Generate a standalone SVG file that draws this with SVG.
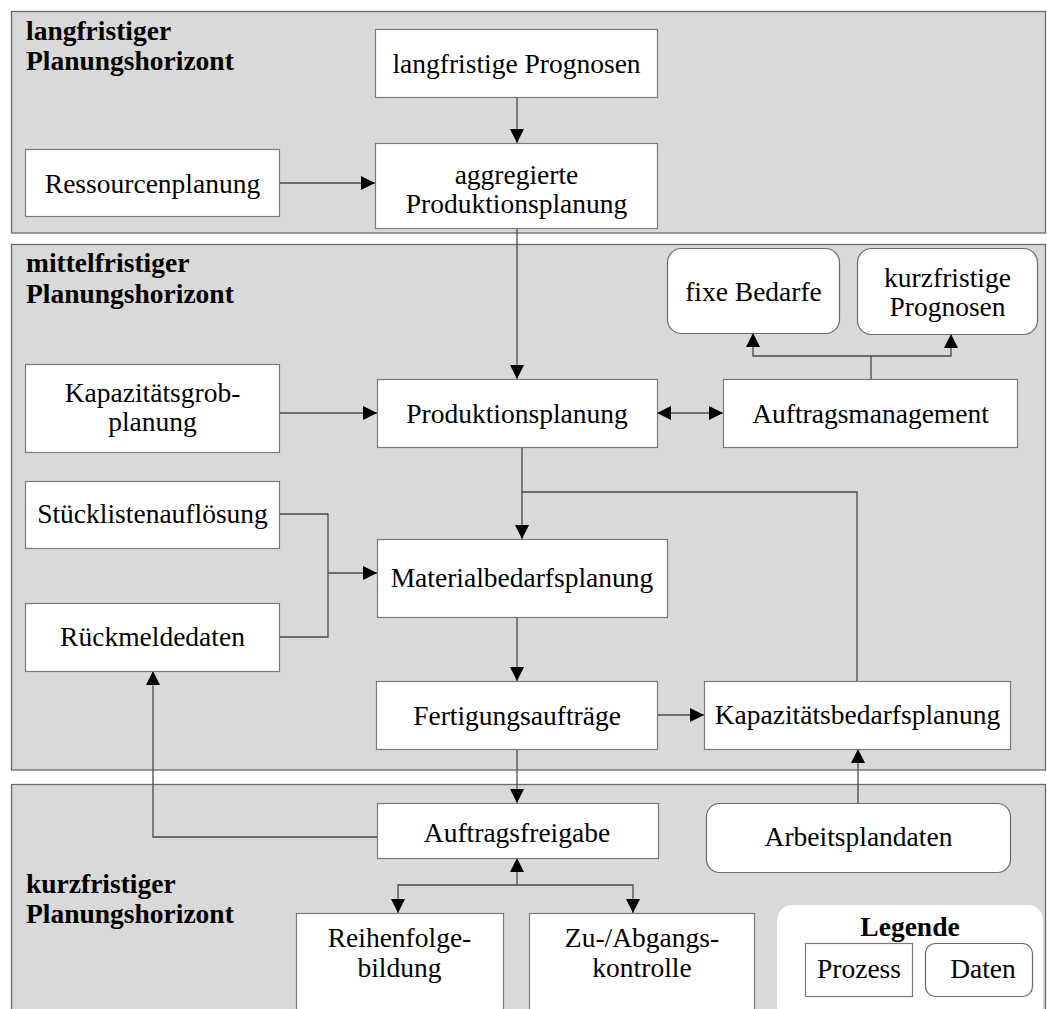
<svg xmlns="http://www.w3.org/2000/svg" width="1047" height="1009" viewBox="0 0 1047 1009">
  <style>
    .band { fill: #d9d9d9; stroke: #6a6a6a; stroke-width: 1.3; }
    .proc { fill: #ffffff; stroke: #7a7a7a; stroke-width: 1.2; }
    .data { fill: #ffffff; stroke: #6a6a6a; stroke-width: 1.2; }
    .legend { fill: #ffffff; stroke: none; }
    .t { font-family: "Liberation Serif", "Times New Roman", serif; font-size: 27.5px; fill: #000000; text-anchor: middle; }
    .h { font-family: "Liberation Serif", "Times New Roman", serif; font-size: 27.5px; font-weight: bold; fill: #000000; }
    .c { fill: none; stroke: #4a4a4a; stroke-width: 1.3; }
  </style>
  <defs>
    <marker id="arrow" markerUnits="userSpaceOnUse" markerWidth="14" markerHeight="14" refX="14" refY="7" orient="auto-start-reverse" viewBox="0 0 14 14">
      <path d="M0,0 L14,7 L0,14 Z" fill="#000000"/>
    </marker>
  </defs>

  <rect width="1047" height="1009" fill="#ffffff"/>

  <!-- planning horizon bands -->
  <g id="bands">
    <rect class="band" x="11.5" y="11.5" width="1034" height="221.5"/>
    <text class="h" x="26" y="39.5">langfristiger</text>
    <text class="h" x="26" y="70">Planungshorizont</text>

    <rect class="band" x="11.5" y="244.5" width="1034" height="525.5"/>
    <text class="h" x="26" y="272">mittelfristiger</text>
    <text class="h" x="26" y="303">Planungshorizont</text>

    <rect class="band" x="11.5" y="784.5" width="1034" height="240"/>
    <text class="h" x="26" y="893">kurzfristiger</text>
    <text class="h" x="26" y="923">Planungshorizont</text>
  </g>

  <!-- connectors -->
  <g id="connectors">
    <line class="c" x1="517" y1="97" x2="517" y2="143" marker-end="url(#arrow)"/>
    <line class="c" x1="279" y1="183" x2="375" y2="183" marker-end="url(#arrow)"/>
    <line class="c" x1="517" y1="228" x2="517" y2="379" marker-end="url(#arrow)"/>
    <line class="c" x1="279" y1="413" x2="377" y2="413" marker-end="url(#arrow)"/>
    <line class="c" x1="657" y1="413" x2="723" y2="413" marker-start="url(#arrow)" marker-end="url(#arrow)"/>
    <line class="c" x1="871" y1="379" x2="871" y2="356"/>
    <polyline class="c" points="753,333 753,356 951,356 951,334" marker-start="url(#arrow)" marker-end="url(#arrow)"/>
    <line class="c" x1="522" y1="447" x2="522" y2="492"/>
    <polyline class="c" points="857,681 857,492 522,492 522,539" marker-end="url(#arrow)"/>
    <polyline class="c" points="279,514 328,514 328,637 279,637"/>
    <line class="c" x1="328" y1="573" x2="377" y2="573" marker-end="url(#arrow)"/>
    <line class="c" x1="517" y1="617" x2="517" y2="681" marker-end="url(#arrow)"/>
    <line class="c" x1="657" y1="715" x2="704" y2="715" marker-end="url(#arrow)"/>
    <line class="c" x1="517" y1="749" x2="517" y2="803" marker-end="url(#arrow)"/>
    <line class="c" x1="858" y1="803" x2="858" y2="749" marker-end="url(#arrow)"/>
    <polyline class="c" points="377,837 153,837 153,671" marker-end="url(#arrow)"/>
    <line class="c" x1="517" y1="885" x2="517" y2="858" marker-end="url(#arrow)"/>
    <polyline class="c" points="398,913 398,885 633,885 633,913" marker-start="url(#arrow)" marker-end="url(#arrow)"/>
  </g>

  <!-- long-term nodes -->
  <g id="langfristige-prognosen">
    <rect class="proc" x="375.5" y="29.5" width="282" height="68"/>
    <text class="t" x="516.5" y="73">langfristige Prognosen</text>
  </g>
  <g id="ressourcenplanung">
    <rect class="proc" x="25.5" y="149.5" width="254" height="67"/>
    <text class="t" x="152.5" y="193">Ressourcenplanung</text>
  </g>
  <g id="aggregierte-produktionsplanung">
    <rect class="proc" x="375.5" y="143.5" width="282" height="85"/>
    <text class="t" x="516.5" y="184">aggregierte</text>
    <text class="t" x="516.5" y="213">Produktionsplanung</text>
  </g>

  <!-- mid-term nodes -->
  <g id="fixe-bedarfe">
    <rect class="data" x="667.5" y="248.5" width="172" height="85" rx="14"/>
    <text class="t" x="753.5" y="301">fixe Bedarfe</text>
  </g>
  <g id="kurzfristige-prognosen">
    <rect class="data" x="857.5" y="248.5" width="180" height="86" rx="14"/>
    <text class="t" x="947.5" y="287">kurzfristige</text>
    <text class="t" x="947.5" y="316">Prognosen</text>
  </g>
  <g id="kapazitaetsgrobplanung">
    <rect class="proc" x="25.5" y="364.5" width="254" height="88"/>
    <text class="t" x="152.5" y="402">Kapazitätsgrob-</text>
    <text class="t" x="152.5" y="431">planung</text>
  </g>
  <g id="produktionsplanung">
    <rect class="proc" x="377.5" y="379.5" width="280" height="68"/>
    <text class="t" x="517" y="423">Produktionsplanung</text>
  </g>
  <g id="auftragsmanagement">
    <rect class="proc" x="723.5" y="379.5" width="294" height="68"/>
    <text class="t" x="870.5" y="423">Auftragsmanagement</text>
  </g>
  <g id="stuecklistenaufloesung">
    <rect class="proc" x="25.5" y="481.5" width="254" height="67"/>
    <text class="t" x="152.5" y="523">Stücklistenauflösung</text>
  </g>
  <g id="materialbedarfsplanung">
    <rect class="proc" x="377.5" y="539.5" width="290" height="78"/>
    <text class="t" x="522" y="587">Materialbedarfsplanung</text>
  </g>
  <g id="rueckmeldedaten">
    <rect class="proc" x="25.5" y="603.5" width="254" height="68"/>
    <text class="t" x="152.5" y="646">Rückmeldedaten</text>
  </g>
  <g id="fertigungsauftraege">
    <rect class="proc" x="376.5" y="681.5" width="281" height="68"/>
    <text class="t" x="517" y="725">Fertigungsaufträge</text>
  </g>
  <g id="kapazitaetsbedarfsplanung">
    <rect class="proc" x="704.5" y="681.5" width="306" height="68"/>
    <text class="t" x="857.5" y="724">Kapazitätsbedarfsplanung</text>
  </g>

  <!-- short-term nodes -->
  <g id="auftragsfreigabe">
    <rect class="proc" x="377.5" y="803.5" width="281" height="55"/>
    <text class="t" x="517" y="842">Auftragsfreigabe</text>
  </g>
  <g id="arbeitsplandaten">
    <rect class="data" x="706.5" y="803.5" width="304" height="69" rx="13"/>
    <text class="t" x="858.5" y="846">Arbeitsplandaten</text>
  </g>
  <g id="reihenfolgebildung">
    <rect class="proc" x="296.5" y="913.5" width="207" height="110"/>
    <text class="t" x="399.5" y="947">Reihenfolge-</text>
    <text class="t" x="399.5" y="977">bildung</text>
  </g>
  <g id="zu-abgangskontrolle">
    <rect class="proc" x="529.5" y="913.5" width="225" height="110"/>
    <text class="t" x="642" y="947">Zu-/Abgangs-</text>
    <text class="t" x="642" y="977">kontrolle</text>
  </g>

  <!-- legend -->
  <g id="legende">
    <rect class="legend" x="777" y="905" width="266" height="115" rx="15"/>
    <text class="h" x="910" y="936" text-anchor="middle">Legende</text>
    <rect class="proc" x="805.5" y="943.5" width="107" height="53"/>
    <text class="t" x="859" y="978">Prozess</text>
    <rect class="data" x="925.5" y="943.5" width="107" height="53" rx="10"/>
    <text class="t" x="983" y="978">Daten</text>
  </g>
</svg>
